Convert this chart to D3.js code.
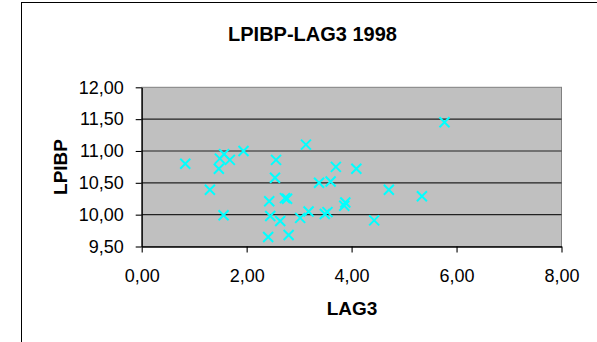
<!DOCTYPE html>
<html>
<head>
<meta charset="utf-8">
<script src="https://cdn.jsdelivr.net/npm/d3@7"></script>
<style>
  html, body { margin: 0; padding: 0; background: #fff; }
  svg { display: block; }
  text { font-family: "Liberation Sans", Arial, sans-serif; fill: #000; }
</style>
</head>
<body>
<svg id="chart" width="597" height="342"></svg>
<script>
// LAG3 (x) against LPIBP (y), 1998
const lag3 = [0.83, 1.30, 1.47, 1.49, 1.57, 1.68, 1.56, 1.94, 2.56, 2.54, 2.43, 2.45, 2.41, 2.64, 2.73, 2.77,
              2.80, 3.02, 3.13, 3.18, 3.38, 3.49, 3.54, 3.60, 3.70, 4.09, 3.88, 3.86, 4.43, 4.71, 5.34, 5.77];
const lpibp = [10.80, 10.39, 10.72, 10.88, 10.95, 10.86, 9.99, 11.00, 10.86, 10.58, 10.21, 9.98, 9.65, 9.90, 10.26, 10.25,
               9.68, 9.95, 11.10, 10.05, 10.50, 10.01, 10.04, 10.52, 10.75, 10.72, 10.19, 10.14, 9.91, 10.39, 10.29, 11.45];
const xTicks = [0, 2, 4, 6, 8];
const yTicks = [9.5, 10, 10.5, 11, 11.5, 12];
const title = "LPIBP-LAG3 1998";
const xTitle = "LAG3";
const yTitle = "LPIBP";

const fmt = v => d3.format(".2f")(v).replace(".", ",");

const svg = d3.select("#chart");
const plot = { left: 141.7, right: 561.5, top: 87.3, bottom: 246.5 };

const x = d3.scaleLinear().domain([0, 8]).range([plot.left, plot.right]);
const y = d3.scaleLinear().domain([9.5, 12]).range([plot.bottom, plot.top]);

// outer chart frame
svg.append("rect")
  .attr("x", 21.5).attr("y", 2.5)
  .attr("width", 600).attr("height", 360)
  .attr("fill", "#fff").attr("stroke", "#000").attr("stroke-width", 1);

// plot area
svg.append("rect")
  .attr("x", plot.left).attr("y", plot.top)
  .attr("width", plot.right - plot.left).attr("height", plot.bottom - plot.top)
  .attr("fill", "#c0c0c0").attr("stroke", "#808080").attr("stroke-width", 1);

// horizontal gridlines
svg.append("g")
  .selectAll("line")
  .data(yTicks.filter(t => t > 9.5 && t < 12))
  .join("line")
  .attr("x1", plot.left).attr("x2", plot.right)
  .attr("y1", d => y(d)).attr("y2", d => y(d))
  .attr("stroke", "#222").attr("stroke-width", 1.2);

// axes
const xAxis = svg.append("g")
  .attr("transform", `translate(0,${plot.bottom})`)
  .call(d3.axisBottom(x).tickValues(xTicks).tickFormat(fmt).tickSizeInner(6).tickSizeOuter(0).tickPadding(17));
const yAxis = svg.append("g")
  .attr("transform", `translate(${plot.left},0)`)
  .call(d3.axisLeft(y).tickValues(yTicks).tickFormat(fmt).tickSizeInner(6).tickSizeOuter(0).tickPadding(12));

[xAxis, yAxis].forEach(g => {
  g.select(".domain").attr("stroke", "#000").attr("stroke-width", 1.3);
  g.selectAll(".tick line").attr("stroke", "#000").attr("stroke-width", 1.1);
  g.selectAll(".tick text")
    .attr("font-family", "Liberation Sans, Arial, sans-serif")
    .attr("font-size", 18).attr("fill", "#000");
});
xAxis.selectAll(".tick text").attr("dy", "0.71em");

// cross markers
const r = 5;
const pts = d3.range(lag3.length).map(i => ({ cx: x(lag3[i]), cy: y(lpibp[i]) }));
svg.append("g")
  .selectAll("path")
  .data(pts)
  .join("path")
  .attr("d", d => `M${d.cx - r},${d.cy - r}L${d.cx + r},${d.cy + r}M${d.cx - r},${d.cy + r}L${d.cx + r},${d.cy - r}`)
  .attr("stroke", "#00ffff").attr("stroke-width", 2).attr("fill", "none");

// titles
svg.append("text")
  .attr("x", 312.5).attr("y", 41)
  .attr("text-anchor", "middle")
  .attr("font-size", 20).attr("font-weight", "bold")
  .text(title);

svg.append("text")
  .attr("x", 352).attr("y", 315)
  .attr("text-anchor", "middle")
  .attr("font-size", 19).attr("font-weight", "bold")
  .text(xTitle);

svg.append("text")
  .attr("transform", "translate(67,167) rotate(-90)")
  .attr("text-anchor", "middle")
  .attr("font-size", 19).attr("font-weight", "bold")
  .text(yTitle);
</script>
</body>
</html>
